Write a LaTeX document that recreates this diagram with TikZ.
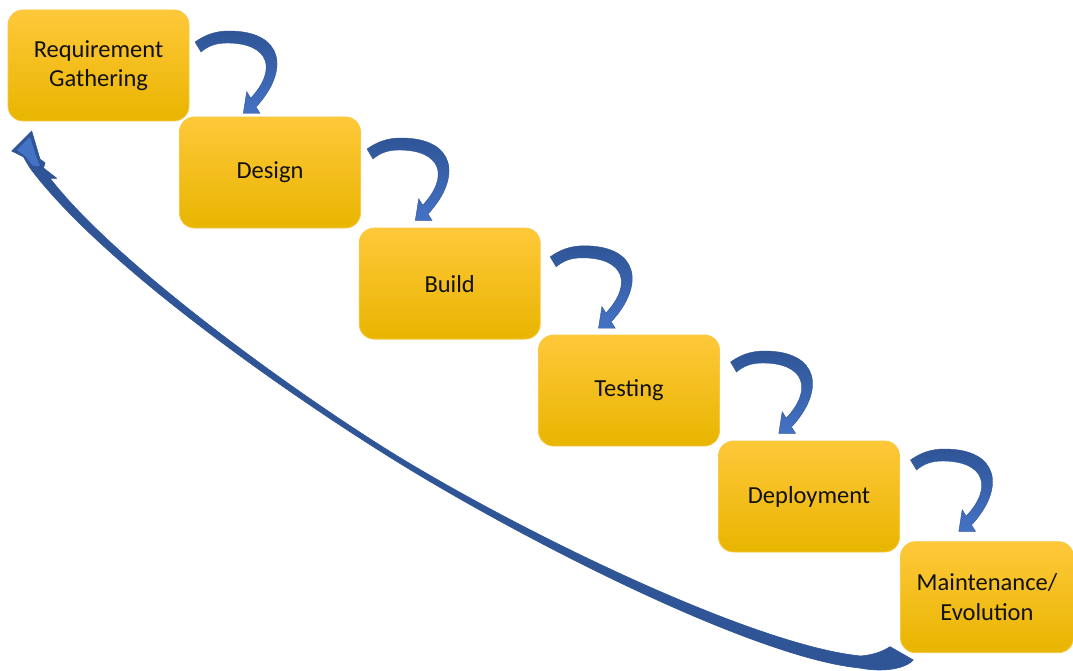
\documentclass[tikz,border=0pt]{standalone}
\usepackage{fontspec}
\setmainfont{Carlito}
\definecolor{arrdark}{HTML}{2F5597}
\definecolor{arrlight}{HTML}{4472C4}
\definecolor{boxtop}{HTML}{FFC83A}
\definecolor{boxmid}{HTML}{FFC000}
\definecolor{boxbot}{HTML}{E8B500}
\definecolor{boxedge}{HTML}{F7C843}
\definecolor{txt}{HTML}{111111}
\tikzset{
  stagebox/.style={rectangle, rounded corners=15pt, minimum width=181pt, minimum height=111pt,
    inner sep=0pt, outer sep=0pt, top color=boxtop, middle color=boxmid, bottom color=boxbot,
    draw=boxedge, line width=0.8pt, text=txt, align=center,
    font=\fontsize{24.5}{29.5}\selectfont},
  curvearrow/.pic={
    \shadedraw[top color=arrdark, bottom color=arrlight, draw=arrdark, line width=0.4pt]
      (-34,11) .. controls (-24,4) and (-14,0) .. (0,0)
      .. controls (55,0) and (61,39.5) .. (27,76)
      -- (31,82.3) -- (14.3,82.3) -- (17.7,60.7) -- (21.7,67.2)
      .. controls (48.9,38) and (40,12) .. (-2,12)
      .. controls (-13,12) and (-21,15) .. (-28,21) -- cycle;
  },
  retarrow/.style={fill=arrdark, draw=arrdark, line width=0.6pt, line join=round},
  retface/.style={fill=arrlight}
}
\begin{document}
\begin{tikzpicture}[x=1pt, y=-1pt]
\fill[white] (0,0) rectangle (1073,671);
\useasboundingbox (0,0) rectangle (1073,671);
% stages
\node[stagebox] (b1) at (98.5,65.5) {Requirement\\Gathering};
\node[stagebox] (b2) at (270,172.5) {Design};
\node[stagebox] (b3) at (449.7,283.6) {Build};
\node[stagebox] (b4) at (629,390.5) {Testing};
\node[stagebox] (b5) at (809,496.5) {Deployment};
\node[stagebox, minimum width=173pt] (b6) at (987,597.2) {Maintenance/\\Evolution};
% step arrows
\pic at ([shift={(40,21)}]b1.north east) {curvearrow};
\pic at ([shift={(40.5,21)}]b2.north east) {curvearrow};
\pic at ([shift={(44,17.7)}]b3.north east) {curvearrow};
\pic at ([shift={(45,16)}]b4.north east) {curvearrow};
\pic at ([shift={(45,8)}]b5.north east) {curvearrow};
% return arrow from maintenance back to requirements
\filldraw[retarrow]
 (11.7,151) -- (31.7,131) -- (40,159) -- (45,163) -- (43.5,168) -- (56.7,178.3) -- (50,178.3)
 .. controls (115,262) and (282.8,383.9) .. (384.3,447.9)
 .. controls (511.4,527.6) and (751.1,645) .. (860.6,656)
 .. controls (872,655) and (882,652) .. (890,646.7)
 -- (913.3,660)
 .. controls (908,666) and (895,670) .. (880,670)
 .. controls (872,670) and (865,669) .. (859.4,668)
 .. controls (749.9,657) and (508.4,532.4) .. (381.7,452.1)
 .. controls (280.2,388.1) and (102,264) .. (30,168)
 -- (23.3,156.7) -- cycle;
\fill[retface] (17,150) -- (30,137) -- (37,159) -- (40,166) -- (33,166) -- (25,156) -- cycle;
\end{tikzpicture}
\end{document}
